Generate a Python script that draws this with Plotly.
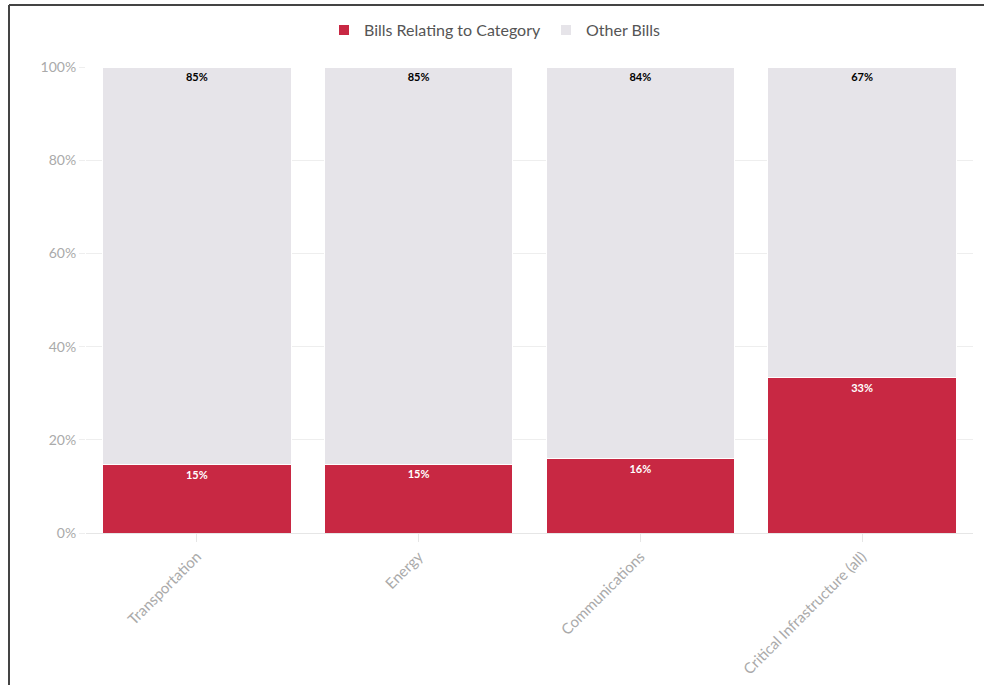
import plotly.graph_objects as go

categories = ["Transportation", "Energy", "Communications", "Critical Infrastructure (all)"]
related = [14.6, 14.8, 15.9, 33.3]
other = [85.4, 85.2, 84.1, 66.7]
y_ticks = [0, 20, 40, 60, 80, 100]
y_tick_labels = ["0%", "20%", "40%", "60%", "80%", "100%"]

W, H = 984, 685
ML, MR, MT, MB = 86, 11, 67, 152
PW, PH = W - ML - MR, H - MT - MB

RED = "#c82843"
GREY = "#e6e4e9"
FONT = "Lato"

fig = go.Figure()
fig.add_trace(go.Bar(
    x=categories, y=related, name="Bills Relating to Category",
    marker=dict(color=RED, line=dict(color="white", width=1)),
    texttemplate="%{y:.0f}%", textposition="inside", insidetextanchor="end",
    textfont=dict(color="white", size=11, family=FONT, weight="bold"),
    textangle=0,
))
fig.add_trace(go.Bar(
    x=categories, y=other, name="Other Bills",
    marker=dict(color=GREY, line=dict(color="white", width=1)),
    texttemplate="%{y:.0f}%", textposition="inside", insidetextanchor="end",
    textfont=dict(color="#000000", size=11, family=FONT, weight="bold"),
    textangle=0,
))

def px_x(p):
    return (p - ML) / PW

def px_y(p):
    return 1 - (p - MT) / PH

fig.update_layout(
    width=W, height=H,
    barmode="stack", bargap=0.15,
    margin=dict(l=ML, r=MR, t=MT, b=MB, autoexpand=False),
    paper_bgcolor="white", plot_bgcolor="white",
    font=dict(family=FONT, color="#666666"),
    legend=dict(
        orientation="h", x=px_x(495), xanchor="center", y=px_y(30), yanchor="middle",
        font=dict(size=16, color="#555555", family=FONT), traceorder="normal",
        itemsizing="constant", bgcolor="rgba(0,0,0,0)", itemwidth=30,
    ),
    uniformtext=dict(mode=False),
    xaxis=dict(
        tickangle=-45, tickfont=dict(size=15, color="#aaaaaa", family=FONT),
        showline=True, linecolor="#e6e6e6", linewidth=1,
        ticks="outside", tickcolor="#e6e6e6", ticklen=8,
        showgrid=False, automargin=False,
    ),
    yaxis=dict(
        range=[0, 100], tickvals=y_ticks, ticktext=y_tick_labels,
        tickfont=dict(size=14, color="#aaaaaa", family=FONT),
        gridcolor="#eeeeee", gridwidth=1, zeroline=False,
        ticks="outside", tickcolor="#eeeeee", ticklen=6, automargin=False,
    ),
    shapes=[
        dict(type="line", xref="paper", yref="paper",
             x0=px_x(9), x1=px_x(984), y0=px_y(5), y1=px_y(5),
             line=dict(color="#444444", width=2)),
        dict(type="line", xref="paper", yref="paper",
             x0=px_x(9), x1=px_x(9), y0=px_y(5), y1=px_y(685),
             line=dict(color="#444444", width=2)),
    ],
)

fig.write_html("out.html", config={"displayModeBar": False},
               post_script="document.body.style.margin='0';")
